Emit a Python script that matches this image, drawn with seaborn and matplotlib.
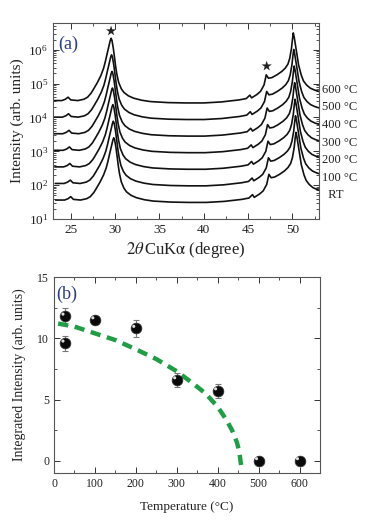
import numpy as np
import pandas as pd
import matplotlib
matplotlib.use("Agg")
import matplotlib.pyplot as plt
import matplotlib.transforms as mtransforms
from matplotlib.ticker import LogLocator, LogFormatterMathtext, MultipleLocator, NullFormatter
import seaborn as sns

# ---------------- data: panel (a) XRD profiles ----------------
two_theta = [23.0, 24.0, 24.4, 24.7, 25.0, 25.8, 26.5, 26.9, 27.3, 27.6, 28.0, 28.4, 28.7,
             28.9, 29.1, 29.3, 29.45, 29.55, 29.65, 29.8, 29.95, 30.06, 30.2, 30.4, 30.7,
             31.0, 31.5, 32.1, 33.0, 34.0, 36.0, 38.0, 40.0, 42.0, 44.0, 44.8,
             45.2, 45.4, 46.0, 46.4, 46.8, 47.05, 47.3, 47.7, 48.25, 48.8, 49.2, 49.5, 49.7,
             49.9, 50.0, 50.1, 50.2, 50.4, 50.7, 51.0, 51.25, 51.6, 52.0, 52.5, 53.0]
log_profile_600 = [4.50, 4.50, 4.54, 4.60, 4.52, 4.50, 4.54, 4.60, 4.72, 4.85, 5.03, 5.24, 5.45,
                   5.65, 5.88, 6.10, 6.27, 6.34, 6.28, 6.05, 5.75, 5.52, 5.28, 5.04, 4.85,
                   4.74, 4.64, 4.57, 4.51, 4.47, 4.44, 4.43, 4.43, 4.46, 4.52, 4.56,
                   4.66, 4.58, 4.68, 4.77, 4.96, 5.26, 5.16, 5.18, 5.26, 5.36, 5.46, 5.58, 5.75,
                   6.05, 6.30, 6.50, 6.38, 6.05, 5.55, 5.25, 5.08, 4.96, 4.87, 4.81, 4.77]
curve_labels = ["600 \u00b0C", "500 \u00b0C", "400 \u00b0C", "300 \u00b0C", "200 \u00b0C", "100 \u00b0C", "RT"]
log_offsets = [0.0, -0.49, -0.98, -1.47, -1.96, -2.45, -2.94]
peak_shifts = [0.0, 0.05, 0.10, 0.15, 0.20, 0.25, 0.30]
star_x = [29.55, 47.1]
star_y = [3.6e6, 3.3e5]

# ---------------- data: panel (b) integrated intensity ----------------
temps = [27, 27, 100, 200, 300, 400, 500, 600]
integ = [11.8, 9.6, 11.5, 10.8, 6.6, 5.7, 0.0, 0.0]
integ_err = [0.7, 0.6, 0.25, 0.7, 0.6, 0.6, 0.0, 0.0]
fit_T = [10, 50, 100, 150, 200, 250, 300, 340, 370, 400, 420, 435, 447, 453, 458]
fit_I = [11.2, 10.95, 10.4, 9.85, 9.1, 8.3, 7.3, 6.3, 5.5, 4.4, 3.4, 2.5, 1.5, 0.7, -0.6]

# ---------------- style ----------------
sns.set_style("ticks")
plt.rcParams["font.family"] = ["Liberation Serif", "DejaVu Serif"]
plt.rcParams["mathtext.fontset"] = "stix"
plt.rcParams["axes.edgecolor"] = "#555555"
plt.rcParams["axes.linewidth"] = 0.8

fig = plt.figure(figsize=(3.82, 5.22), dpi=100)
axa = fig.add_axes([53 / 382, 1 - 219 / 522, 266 / 382, 196 / 522])
axb = fig.add_axes([54 / 382, 1 - 473 / 522, 266 / 382, 196 / 522])

# ---------------- panel (a) ----------------
rows = []
for lab, off, sh in zip(curve_labels, log_offsets, peak_shifts):
    for t, v in zip(two_theta, log_profile_600):
        rows.append({"two_theta": t + sh, "intensity": 10 ** (v + off), "sample": lab})
df = pd.DataFrame(rows)
sns.lineplot(data=df, x="two_theta", y="intensity", hue="sample",
             palette=["#111111"] * len(curve_labels), legend=False,
             sort=False, estimator=None, lw=1.2, ax=axa)
sns.scatterplot(x=star_x, y=star_y, marker="*", s=60, color="#222222",
                edgecolor="none", ax=axa, zorder=5)
axa.set_yscale("log")
axa.set_xlim(23, 53)
axa.set_ylim(10, 6.2e6)
axa.yaxis.set_major_locator(LogLocator(base=10, numticks=10))
axa.yaxis.set_minor_locator(LogLocator(base=10, subs=np.arange(2, 10), numticks=20))
axa.yaxis.set_major_formatter(LogFormatterMathtext())
axa.yaxis.set_minor_formatter(NullFormatter())
axa.xaxis.set_major_locator(MultipleLocator(5))
axa.xaxis.set_minor_locator(MultipleLocator(2.5))
axa.tick_params(which="both", direction="in", top=True, right=True, labelsize=9.5,
                colors="#333333", labelcolor="#222222")
axa.tick_params(which="major", length=4, width=0.7)
axa.tick_params(which="minor", length=2, width=0.6)
axa.set_xlabel(r"$2\theta\,$CuK$\mathrm{\alpha}$ (degree)", fontsize=12, labelpad=3, color="#222222")
axa.set_ylabel("Intensity (arb. units)", fontsize=11, labelpad=3, color="#222222")
axa.text(0.02, 0.89, "(a)", transform=axa.transAxes, fontsize=13, color="#2b3a8c", va="center")

trans = mtransforms.blended_transform_factory(axa.transAxes, axa.transData)
for i, (lab, off) in enumerate(zip(curve_labels, log_offsets)):
    txt = lab if lab != "RT" else "  RT"
    axa.text(1.01, 10 ** (log_profile_600[-1] + off + 0.05 - 0.03 * i), txt, transform=trans,
             fontsize=9, va="center", ha="left", color="#222222")

# ---------------- panel (b) ----------------
axb.errorbar(temps, integ, yerr=integ_err, fmt="none", ecolor="#777777",
             elinewidth=0.8, capsize=2, capthick=0.8, zorder=2)
sns.lineplot(x=fit_T, y=fit_I, color="#1f9e45", lw=3.2, sort=False, ax=axb, zorder=3)
axb.lines[-1].set_linestyle((0, (2.3, 1.5)))
axb.lines[-1].set_dash_capstyle("butt")
sns.scatterplot(x=temps, y=integ, s=60, color="#0a0a0a", edgecolor="#333333",
                linewidth=0.5, ax=axb, zorder=4)
hl = sns.scatterplot(x=temps, y=integ, s=5, color="#dddddd", edgecolor="none", ax=axb, zorder=5)
offset = mtransforms.ScaledTranslation(-1.5 / 72, 1.5 / 72, fig.dpi_scale_trans)
hl.collections[-1].set_transform(hl.collections[-1].get_transform() + offset)

axb.set_xlim(0, 650)
axb.set_ylim(-1, 15)
axb.xaxis.set_major_locator(MultipleLocator(100))
axb.xaxis.set_minor_locator(MultipleLocator(50))
axb.yaxis.set_major_locator(MultipleLocator(5))
axb.yaxis.set_minor_locator(MultipleLocator(2.5))
axb.tick_params(which="both", direction="in", top=True, right=True, labelsize=8.5,
                colors="#333333", labelcolor="#222222")
axb.tick_params(which="major", length=4, width=0.7)
axb.tick_params(which="minor", length=2, width=0.6)
axb.set_xlabel("Temperature (\u00b0C)", fontsize=9.5, labelpad=8, color="#222222")
axb.set_ylabel("Integrated Intensity (arb. units)", fontsize=10, labelpad=8, color="#222222")
axb.text(0.01, 0.913, "(b)", transform=axb.transAxes, fontsize=13, color="#2b3a8c", va="center")

fig.savefig("out.png", dpi=100)
